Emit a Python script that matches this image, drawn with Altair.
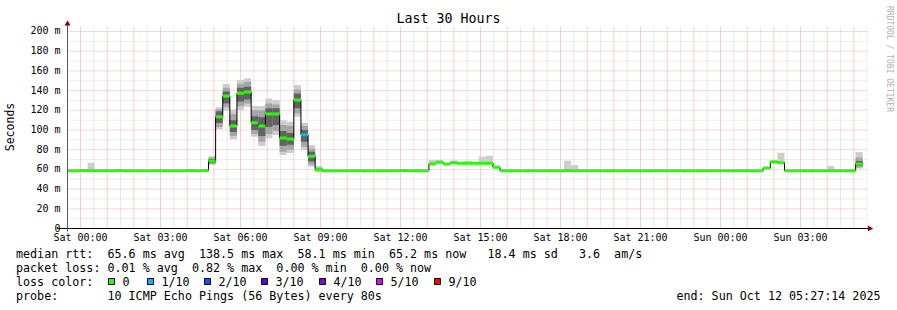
import altair as alt
import pandas as pd

FONT = "DejaVu Sans Mono"
NB = "\u00a0"

# ---------------- data ----------------
BIN_MINUTES = 16          # consolidation step of the RRA
FIRST_BIN = -2            # bin index of the first bin (bins counted from Sat 00:00)

# median rtt per 16-minute bin (ms), bins k = -2 .. 109
MEDIAN_MS = [
    # k = -2 .. 17
    58.7, 58.7, 58.8, 58.7, 58.7, 58.7, 58.6, 58.8, 58.7, 58.7,
    58.7, 58.7, 58.7, 58.7, 58.7, 58.7, 58.7, 58.8, 58.7, 58.9,
    # k = 18 .. 33
    68.5, 113.5, 134.5, 104.0, 137.3, 138.5, 107.4, 104.0, 116.2, 116.2,
    91.9, 90.9, 130.5, 95.2, 73.3, 59.7,
    # k = 34 .. 48
    58.7, 58.7, 58.7, 58.6, 58.7, 58.7, 58.7, 58.7, 58.7, 58.7,
    58.7, 58.8, 58.7, 58.7, 58.7,
    # k = 49 .. 58
    65.8, 67.2, 65.6, 66.8, 66.2, 66.2, 66.2, 66.2, 66.2, 62.1,
    # k = 59 .. 95
    58.7, 58.7, 58.7, 58.7, 58.7, 58.7, 58.7, 58.7, 58.7, 58.8,
    58.7, 58.7, 58.7, 58.7, 58.7, 58.7, 58.7, 58.7, 58.7, 58.7,
    58.7, 58.7, 58.7, 58.7, 58.7, 58.7, 58.7, 58.7, 58.7, 58.7,
    58.7, 58.7, 58.7, 58.7, 58.7, 58.7, 58.7,
    # k = 96 .. 98
    61.3, 67.8, 66.8,
    # k = 99 .. 108
    58.7, 58.7, 58.7, 58.7, 58.7, 58.7, 58.7, 58.7, 58.7, 58.7,
    # k = 109
    65.5,
]

# lost pings (of 10) per bin
LOSS_PINGS = [
    0, 0, 0, 0, 0, 0, 0, 0, 0, 0, 0, 0, 0, 0, 0, 0, 0, 0, 0, 0,
    0, 0, 0, 0, 0, 0, 0, 0, 0, 0, 0, 0, 0, 1, 0, 0,
    0, 0, 0, 0, 0, 0, 0, 0, 0, 0, 0, 0, 0, 0, 0,
    0, 0, 0, 0, 0, 0, 0, 0, 0, 0,
    0, 0, 0, 0, 0, 0, 0, 0, 0, 0, 0, 0, 0, 0, 0, 0, 0, 0, 0, 0,
    0, 0, 0, 0, 0, 0, 0, 0, 0, 0, 0, 0, 0, 0, 0, 0, 0,
    0, 0, 0,
    0, 0, 0, 0, 0, 0, 0, 0, 0, 0,
    0,
]

# smoke (ping spread) for bins that show it
SMOKE_BIN = [1, 5, 15, 18, 19, 20, 21, 22, 23, 24, 25, 26, 27, 28, 29, 30, 31, 32,
             33, 45, 49, 50, 52, 54, 56, 57, 58, 68, 69, 98, 105, 109]
SMOKE_LO1 = [58.7, 58.7, 58.7, 64.5, 100.7, 119.6, 90.6, 120.3, 123.7, 93.2, 83.8, 91.6,
             95.0, 74.6, 76.6, 113.5, 79.7, 62.7, 57.7, 58.7, 65.8, 67.2, 66.8, 66.2,
             66.2, 66.2, 62.1, 58.7, 58.7, 66.8, 58.7, 61.0]
SMOKE_HI1 = [66.8, 60.0, 60.0, 73.6, 123.0, 146.7, 121.0, 150.8, 152.5, 124.4, 124.4, 132.0,
             130.5, 110.0, 108.4, 145.7, 107.4, 84.8, 63.5, 59.8, 69.5, 69.5, 69.0, 68.8,
             72.9, 73.9, 64.0, 68.8, 64.5, 77.0, 63.5, 77.7]
SMOKE_LO2 = [58.7, 58.7, 58.7, 65.5, 103.0, 123.0, 94.0, 124.0, 127.0, 96.0, 88.0, 96.0,
             99.0, 78.0, 80.0, 117.0, 83.0, 65.0, 58.0, 58.7, 65.8, 67.2, 66.8, 66.2,
             66.2, 66.2, 62.1, 58.7, 58.7, 66.8, 58.7, 62.0]
SMOKE_HI2 = [58.7, 58.7, 58.7, 72.0, 121.0, 143.0, 116.0, 147.0, 149.0, 120.0, 120.0, 127.0,
             126.0, 105.0, 104.0, 141.0, 104.0, 81.0, 62.0, 58.7, 65.8, 67.2, 66.8, 66.2,
             66.2, 66.2, 62.1, 58.7, 58.7, 66.8, 58.7, 72.0]
SMOKE_LO3 = [58.7, 58.7, 58.7, 66.5, 107.0, 127.0, 98.0, 129.0, 131.0, 100.0, 94.0, 103.0,
             105.0, 84.0, 85.0, 122.0, 88.0, 68.0, 58.5, 58.7, 65.8, 67.2, 66.8, 66.2,
             66.2, 66.2, 62.1, 58.7, 58.7, 66.8, 58.7, 63.5]
SMOKE_HI3 = [58.7, 58.7, 58.7, 70.5, 119.0, 139.0, 110.0, 143.0, 144.0, 114.0, 113.0, 122.0,
             122.0, 99.0, 97.0, 137.0, 100.0, 78.0, 61.0, 58.7, 65.8, 67.2, 66.8, 66.2,
             66.2, 66.2, 62.1, 58.7, 58.7, 66.8, 58.7, 68.5]

LOSS_LEVELS = [0, 1, 2, 3, 4, 5, 9]
LOSS_LABELS = ["0", "1/10", "2/10", "3/10", "4/10", "5/10", "9/10"]
LOSS_COLORS = ["#26ff00", "#00b8ff", "#0059ff", "#5e00ff", "#7e00ff", "#dd00ff", "#ff0000"]

X_LABEL_HOURS = [0, 3, 6, 9, 12, 15, 18, 21, 24, 27]
X_LABELS = ["Sat 00:00", "Sat 03:00", "Sat 06:00", "Sat 09:00", "Sat 12:00",
            "Sat 15:00", "Sat 18:00", "Sat 21:00", "Sun 00:00", "Sun 03:00"]
X_MAJOR_HOURS = list(range(0, 30))
X_MINOR_HOURS = [h + 0.5 for h in range(0, 30)]
Y_LABEL_MS = [0, 20, 40, 60, 80, 100, 120, 140, 160, 180, 200]
Y_LABELS = ["0  ", "20 m", "40 m", "60 m", "80 m", "100 m", "120 m", "140 m",
            "160 m", "180 m", "200 m"]
Y_MAJOR_MS = [20, 40, 60, 80, 100, 120, 140, 160, 180, 200]
Y_MINOR_MS = [10, 30, 50, 70, 90, 110, 130, 150, 170, 190]

TITLE = "Last 30 Hours"
LINE_RTT = "median rtt:  65.6 ms avg  138.5 ms max  58.1 ms min  65.2 ms now   18.4 ms sd   3.6  am/s"
LINE_LOSS = "packet loss: 0.01 % avg  0.82 % max  0.00 % min  0.00 % now"
LINE_COLOR = "loss color:"
LINE_PROBE = "probe:       10 ICMP Echo Pings (56 Bytes) every 80s"
LINE_END = "end: Sun Oct 12 05:27:14 2025"

# ---------------- layout ----------------
T_START, T_END = -0.4875, 29.5125      # hours relative to Sat 00:00
W, H = 800, 202
Y_MAX = 205.076
PAD_L, PAD_T = 67.5, 26.5

def nb(s):
    return s.replace(" ", NB)

bin_h = BIN_MINUTES / 60.0
bins = pd.DataFrame({"k": range(FIRST_BIN, FIRST_BIN + len(MEDIAN_MS)),
                     "med": MEDIAN_MS, "loss": LOSS_PINGS})
bins["t0"] = bins["k"] * bin_h
bins["t1"] = (bins["k"] + 1) * bin_h
col_map = dict(zip(LOSS_LEVELS, LOSS_COLORS))
bins["col"] = bins["loss"].map(lambda v: col_map[max(l for l in LOSS_LEVELS if l <= v)])

line_df = pd.concat([bins[["t0", "med"]].rename(columns={"t0": "t"}),
                     pd.DataFrame({"t": [bins["t1"].iloc[-1]], "med": [bins["med"].iloc[-1]]})],
                    ignore_index=True)

smoke = pd.DataFrame({"k": SMOKE_BIN, "lo1": SMOKE_LO1, "hi1": SMOKE_HI1,
                      "lo2": SMOKE_LO2, "hi2": SMOKE_HI2, "lo3": SMOKE_LO3, "hi3": SMOKE_HI3})
smoke["t0"] = smoke["k"] * bin_h
smoke["t1"] = (smoke["k"] + 1) * bin_h

xs = alt.Scale(domain=[T_START, T_END], nice=False, zero=False)
ys = alt.Scale(domain=[0, Y_MAX], nice=False, zero=True)

def xq(f):
    return alt.X(f, type="quantitative", scale=xs, axis=None)

def yq(f):
    return alt.Y(f, type="quantitative", scale=ys, axis=None)

layers = []

# grid
layers.append(alt.Chart(pd.DataFrame({"v": X_MINOR_HOURS})).mark_rule(
    color="#d0d0d0", strokeDash=[1, 1], strokeWidth=1, clip=True).encode(
    x=xq("v"), y=alt.value(0), y2=alt.value(H)))
layers.append(alt.Chart(pd.DataFrame({"v": Y_MINOR_MS})).mark_rule(
    color="#dadada", strokeDash=[1, 1], strokeWidth=1).encode(
    y=yq("v"), x=alt.value(0), x2=alt.value(W)))
layers.append(alt.Chart(pd.DataFrame({"v": X_MAJOR_HOURS})).mark_rule(
    color="#f29a9a", strokeDash=[1, 1], strokeWidth=1, clip=True).encode(
    x=xq("v"), y=alt.value(0), y2=alt.value(H)))
layers.append(alt.Chart(pd.DataFrame({"v": Y_MAJOR_MS})).mark_rule(
    color="#f5b0b0", strokeDash=[1, 1], strokeWidth=1).encode(
    y=yq("v"), x=alt.value(0), x2=alt.value(W)))

# smoke
for lo, hi, c in [("lo1", "hi1", "#cdcdcd"), ("lo2", "hi2", "#a6a6a6"), ("lo3", "hi3", "#626262")]:
    d = smoke[smoke[hi] > smoke[lo]][["t0", "t1", lo, hi]].rename(columns={lo: "lo", hi: "hi"})
    layers.append(alt.Chart(d).mark_rect(color=c, clip=True).encode(
        x=xq("t0"), x2="t1", y=yq("lo"), y2="hi"))

# median black step line
layers.append(alt.Chart(line_df).mark_line(
    interpolate="step-after", color="#000000", strokeWidth=1, clip=True).encode(
    x=xq("t"), y=yq("med")))

# median loss-coloured band
layers.append(alt.Chart(bins).mark_rule(strokeWidth=3, clip=True).encode(
    x=xq("t0"), x2="t1", y=yq("med"), color=alt.Color("col:N", scale=None)))

# tick labels (drawn through the shared scales)
xl = pd.DataFrame({"v": X_LABEL_HOURS, "lab": [nb(s) for s in X_LABELS]})
layers.append(alt.Chart(xl).mark_text(font=FONT, fontSize=10, color="#000", align="center",
                                      baseline="middle").encode(
    x=xq("v"), y=alt.value(H + 9.5), text="lab:N"))
yl = pd.DataFrame({"v": Y_LABEL_MS, "lab": [nb(s) for s in Y_LABELS]})
layers.append(alt.Chart(yl).mark_text(font=FONT, fontSize=10, color="#000", align="right",
                                      baseline="middle").encode(
    y=yq("v"), x=alt.value(-7), text="lab:N"))

# axis lines and arrows
one = pd.DataFrame({"a": [0]})
layers.append(alt.Chart(one).mark_rule(color="#000000", strokeWidth=1).encode(
    x=alt.value(57 - PAD_L), x2=alt.value(868 - PAD_L), y=alt.value(H)))
layers.append(alt.Chart(one).mark_rule(color="#555555", strokeWidth=1).encode(
    x=alt.value(0), y=alt.value(H + 3), y2=alt.value(-2)))
layers.append(alt.Chart(one).mark_point(shape="triangle-right", filled=True, color="#7f0000",
                                        size=36, opacity=1).encode(
    x=alt.value(870.5 - PAD_L), y=alt.value(H)))
layers.append(alt.Chart(one).mark_point(shape="triangle-up", filled=True, color="#7f0000",
                                        size=36, opacity=1).encode(
    x=alt.value(0), y=alt.value(23 - PAD_T)))

def txt(s, x, y, **kw):
    return alt.Chart(one).mark_text(text=nb(s), font=FONT, color="#000", **kw).encode(
        x=alt.value(x - PAD_L), y=alt.value(y - PAD_T))

layers.append(txt(TITLE, 448.5, 19, fontSize=13.3, align="center", baseline="middle"))
layers.append(txt("Seconds", 11, 127, fontSize=11.5, align="center", baseline="middle", angle=270))
layers.append(alt.Chart(one).mark_text(text="RRDTOOL / TOBI OETIKER", font=FONT, color="#b0b0b0",
                                       fontSize=8, align="center", baseline="middle", angle=90).encode(
    x=alt.value(888.5 - PAD_L), y=alt.value(59 - PAD_T)))

LEG_X = 16
layers.append(txt(LINE_RTT, LEG_X, 254.3, fontSize=11.7, align="left", baseline="middle"))
layers.append(txt(LINE_LOSS, LEG_X, 268.3, fontSize=11.7, align="left", baseline="middle"))
layers.append(txt(LINE_COLOR, LEG_X, 281.7, fontSize=11.7, align="left", baseline="middle"))
layers.append(txt(LINE_PROBE, LEG_X, 295.7, fontSize=11.7, align="left", baseline="middle"))
layers.append(txt(LINE_END, 880.5, 295.7, fontSize=11.7, align="right", baseline="middle"))

BOX_X = [108, 147, 204, 261, 319, 376, 434]
for bx, lab, c in zip(BOX_X, LOSS_LABELS, LOSS_COLORS):
    layers.append(alt.Chart(one).mark_rect(fill=c, stroke="#000", strokeWidth=1).encode(
        x=alt.value(bx - PAD_L + 0.5), x2=alt.value(bx - PAD_L + 6.5),
        y=alt.value(278.5 - PAD_T), y2=alt.value(284.5 - PAD_T)))
    layers.append(txt(lab, bx + 14.5, 281.7, fontSize=11.7, align="left", baseline="middle"))

chart = alt.layer(*layers).properties(
    width=W, height=H,
    padding={"left": PAD_L, "top": PAD_T, "right": 897 - PAD_L - W, "bottom": 310 - PAD_T - H},
    autosize=alt.AutoSizeParams(type="none"),
    background="white",
).configure_view(stroke=None)

chart.save("out.html", embed_options={"renderer": "svg", "actions": False})
